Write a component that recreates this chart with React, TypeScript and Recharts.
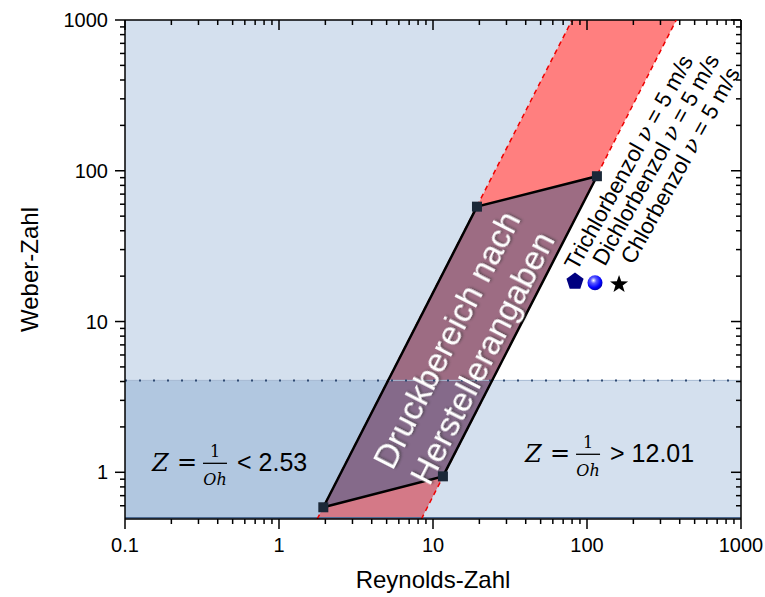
import {
  ComposedChart,
  Area,
  Line,
  Scatter,
  XAxis,
  YAxis,
  ReferenceLine,
} from "recharts";

// axis ticks (log axes)
const xMajorTicks = [0.1, 1, 10, 100, 1000];
const xMinorTicks = [
  0.2, 0.3, 0.4, 0.5, 0.6, 0.7, 0.8, 0.9, 2, 3, 4, 5, 6, 7, 8, 9, 20, 30, 40,
  50, 60, 70, 80, 90, 200, 300, 400, 500, 600, 700, 800, 900,
];
const yMajorTicks = [1, 10, 100, 1000];
const yMinorTicks = [
  0.6, 0.7, 0.8, 0.9, 2, 3, 4, 5, 6, 7, 8, 9, 20, 30, 40, 50, 60, 70, 80, 90,
  200, 300, 400, 500, 600, 700, 800, 900,
];

// Z = 1/Oh < 2.53 (left of the band)
const lowZArea = [
  { re: 0.1, lo: 0.49, hi: 1000 },
  { re: 1.77, lo: 0.49, hi: 1000 },
  { re: 80, lo: 1000, hi: 1000 },
];
// 2.53 < Z < 12.01
const bandArea = [
  { re: 1.77, lo: 0.49, hi: 0.49 },
  { re: 8.41, lo: 0.49, hi: 11.05 },
  { re: 80, lo: 44.4, hi: 1000 },
  { re: 380, lo: 1000, hi: 1000 },
];
const lowZEdge = [
  { re: 1.77, we: 0.49 },
  { re: 80, we: 1000 },
];
const highZEdge = [
  { re: 8.41, we: 0.49 },
  { re: 380, we: 1000 },
];
// We < 4.07 strip
const lowWeArea = [
  { re: 0.1, lo: 0.49, hi: 4.07 },
  { re: 1000, lo: 0.49, hi: 4.07 },
];

// Druckbereich nach Herstellerangaben
const rangeArea = [
  { re: 1.94, lo: 0.586, hi: 0.586 },
  { re: 11.6, lo: 0.94, hi: 21.0 },
  { re: 19.3, lo: 2.58, hi: 57.8 },
  { re: 116, lo: 92, hi: 92 },
];
const rangeCorners = [
  { re: 1.94, we: 0.586 },
  { re: 11.6, we: 0.94 },
  { re: 116, we: 92 },
  { re: 19.3, we: 57.8 },
];
const rangeOutline = [...rangeCorners, rangeCorners[0]];

// solvents at 5 m/s
const trichlor = [{ re: 83.6, we: 18.7 }];
const dichlor = [{ re: 112.7, we: 18.1 }];
const chlor = [{ re: 161.5, we: 17.9 }];
const solventNames = ["Trichlorbenzol", "Dichlorbenzol", "Chlorbenzol"];
const solventLabelPos = [
  { re: 86, we: 21.5 },
  { re: 131, we: 23 },
  { re: 200, we: 23.5 },
];

const rangeLabelPos = [{ re: 15.9, we: 6.6 }];
const zLowPos = [{ re: 0.1497, we: 1.015 }];
const zHighPos = [{ re: 39.6, we: 1.165 }];

const PLOT_W = 616;
const PLOT_H = 499;
const SANS = "'Liberation Sans', Arial, sans-serif";
const MATH = "'DejaVu Serif', 'Liberation Serif', serif";

function XTick(props: any) {
  const { x, y, payload } = props;
  const major = xMajorTicks.includes(payload.value);
  const len = major ? 10 : 5;
  return (
    <g>
      <line x1={x} y1={y} x2={x} y2={y + len} stroke="#000" strokeWidth={1.5} />
      <line
        x1={x}
        y1={y - PLOT_H}
        x2={x}
        y2={y - PLOT_H + len}
        stroke="#000"
        strokeWidth={1.5}
      />
      {major && (
        <text x={x} y={y + 33} textAnchor="middle" fontSize={20} fontFamily={SANS} fill="#000">
          {String(payload.value)}
        </text>
      )}
    </g>
  );
}

function YTick(props: any) {
  const { x, y, payload } = props;
  const major = yMajorTicks.includes(payload.value);
  const len = major ? 10 : 5;
  return (
    <g>
      <line x1={x - len} y1={y} x2={x} y2={y} stroke="#000" strokeWidth={1.5} />
      <line
        x1={x + PLOT_W - len}
        y1={y}
        x2={x + PLOT_W}
        y2={y}
        stroke="#000"
        strokeWidth={1.5}
      />
      {major && (
        <text x={x - 17} y={y + 7} textAnchor="end" fontSize={20} fontFamily={SANS} fill="#000">
          {String(payload.value)}
        </text>
      )}
    </g>
  );
}

const squareShape = (p: any) => (
  <rect x={p.cx - 5} y={p.cy - 5} width={10} height={10} fill="#1b2838" />
);

const pentagonShape = (p: any) => {
  const r = 9;
  const pts = [0, 1, 2, 3, 4]
    .map((i) => {
      const a = -Math.PI / 2 + (i * 2 * Math.PI) / 5;
      return `${p.cx + r * Math.cos(a)},${p.cy + 1 + r * Math.sin(a)}`;
    })
    .join(" ");
  return <polygon points={pts} fill="#000080" />;
};

const sphereShape = (p: any) => (
  <g>
    <defs>
      <radialGradient id="sphereGrad" cx="0.4" cy="0.35" r="0.65">
        <stop offset="0" stopColor="#ffffff" />
        <stop offset="0.3" stopColor="#5a5aff" />
        <stop offset="0.75" stopColor="#0000ff" />
        <stop offset="1" stopColor="#0000b0" />
      </radialGradient>
    </defs>
    <circle cx={p.cx} cy={p.cy} r={7.5} fill="url(#sphereGrad)" />
  </g>
);

const starShape = (p: any) => {
  const pts = Array.from({ length: 10 }, (_, i) => {
    const r = i % 2 === 0 ? 9.5 : 3.8;
    const a = -Math.PI / 2 + (i * Math.PI) / 5;
    return `${p.cx + r * Math.cos(a)},${p.cy + 1 + r * Math.sin(a)}`;
  }).join(" ");
  return <polygon points={pts} fill="#000" />;
};

const solventLabel = (name: string) => (p: any) => (
  <text
    transform={`translate(${p.cx},${p.cy}) rotate(-61)`}
    fontSize={22.5}
    fontFamily={SANS}
    fill="#000"
  >
    {name + " "}
    <tspan fontFamily={MATH} fontStyle="italic">
      ν
    </tspan>
    {" = 5 m/s"}
  </text>
);

const rangeLabel = (p: any) => (
  <g>
    <defs>
      <filter id="txtShadow" x="-20%" y="-20%" width="140%" height="140%">
        <feDropShadow dx="1.5" dy="1.5" stdDeviation="1.2" floodColor="#333" floodOpacity="0.6" />
      </filter>
    </defs>
    <g transform={`translate(${p.cx},${p.cy}) rotate(-63)`} filter="url(#txtShadow)">
      <text textAnchor="middle" fontSize={34} fontFamily={SANS} fill="#fff">
        <tspan x={0} y={-8}>
          Druckbereich nach
        </tspan>
        <tspan x={0} y={32}>
          Herstellerangaben
        </tspan>
      </text>
    </g>
  </g>
);

const zLabel = (rel: string) => (p: any) => (
  <g transform={`translate(${p.cx},${p.cy})`} fill="#000">
    <text x={0} y={0} fontSize={24} fontFamily={MATH} fontStyle="italic">
      Z
    </text>
    <text x={35} y={-1} textAnchor="middle" fontSize={24} fontFamily={MATH}>
      =
    </text>
    <line x1={51} x2={75} y1={-8} y2={-8} stroke="#000" strokeWidth={1.3} />
    <text x={63} y={-14} textAnchor="middle" fontSize={16} fontFamily={MATH}>
      1
    </text>
    <text x={63} y={14} textAnchor="middle" fontSize={16} fontFamily={MATH} fontStyle="italic">
      Oh
    </text>
    <text x={85} y={0} fontSize={25} fontFamily={SANS}>
      {rel}
    </text>
  </g>
);

export default function App() {
  return (
    <div style={{ position: "absolute", left: 0, top: 0, width: 765, height: 597, background: "#fff" }}>
      <ComposedChart
        width={765}
        height={597}
        margin={{ top: 20, right: 24, bottom: 0, left: 0 }}
      >
        <XAxis
          dataKey="re"
          type="number"
          scale="log"
          domain={[0.1, 1000]}
          allowDataOverflow
          ticks={[...xMajorTicks, ...xMinorTicks]}
          interval={0}
          tickSize={0}
          tickMargin={0}
          tickLine={false}
          tick={XTick}
          axisLine={{ stroke: "#000", strokeWidth: 1.5 }}
          height={78}
          label={{
            content: (lp: any) => (
              <text
                x={lp.viewBox.x + lp.viewBox.width / 2}
                y={lp.viewBox.y + 69}
                textAnchor="middle"
                fontSize={24}
                fontFamily={SANS}
                fill="#000"
              >
                Reynolds-Zahl
              </text>
            ),
          }}
        />
        <YAxis
          dataKey="we"
          type="number"
          scale="log"
          domain={[0.49, 1000]}
          allowDataOverflow
          ticks={[...yMajorTicks, ...yMinorTicks]}
          interval={0}
          tickSize={0}
          tickMargin={0}
          tickLine={false}
          tick={YTick}
          axisLine={{ stroke: "#000", strokeWidth: 1.5 }}
          width={125}
          label={{
            content: (lp: any) => (
              <text
                transform={`translate(${lp.viewBox.x + 38},${lp.viewBox.y + lp.viewBox.height / 2}) rotate(-90)`}
                textAnchor="middle"
                fontSize={24}
                fontFamily={SANS}
                fill="#000"
              >
                Weber-Zahl
              </text>
            ),
          }}
        />

        <Area data={lowZArea} dataKey={(d: any) => [d.lo, d.hi]} type="linear" stroke="none" fill="#2863ac" fillOpacity={0.2} dot={false} activeDot={false} isAnimationActive={false} />
        <Area data={bandArea} dataKey={(d: any) => [d.lo, d.hi]} type="linear" stroke="none" fill="#ff0000" fillOpacity={0.5} dot={false} activeDot={false} isAnimationActive={false} />
        <Area data={rangeArea} dataKey={(d: any) => [d.lo, d.hi]} type="linear" stroke="none" fill="#3c5a87" fillOpacity={0.5} dot={false} activeDot={false} isAnimationActive={false} />
        <Area data={lowWeArea} dataKey={(d: any) => [d.lo, d.hi]} type="linear" stroke="none" fill="#2863ac" fillOpacity={0.2} dot={false} activeDot={false} isAnimationActive={false} />

        <ReferenceLine y={4.07} stroke="#a5b9d3" strokeWidth={1} />
        <ReferenceLine y={4.07} stroke="#2f4a72" strokeWidth={2} strokeDasharray="2 12" />
        <ReferenceLine y={0.5} stroke="#4d6b93" strokeWidth={1.5} />
        <ReferenceLine y={1000} stroke="#000" strokeWidth={1.5} />
        <ReferenceLine x={1000} stroke="#000" strokeWidth={1.5} />

        <Line data={lowZEdge} dataKey="we" type="linear" stroke="#ee0000" strokeWidth={1.5} strokeDasharray="5 4" dot={false} activeDot={false} isAnimationActive={false} />
        <Line data={highZEdge} dataKey="we" type="linear" stroke="#ee0000" strokeWidth={1.5} strokeDasharray="5 4" dot={false} activeDot={false} isAnimationActive={false} />
        <Line data={rangeOutline} dataKey="we" type="linear" stroke="#000" strokeWidth={2.5} dot={false} activeDot={false} isAnimationActive={false} />

        <Scatter data={rangeCorners} shape={squareShape} isAnimationActive={false} />
        <Scatter data={trichlor} shape={pentagonShape} isAnimationActive={false} />
        <Scatter data={dichlor} shape={sphereShape} isAnimationActive={false} />
        <Scatter data={chlor} shape={starShape} isAnimationActive={false} />

        {solventNames.map((name, i) => (
          <Scatter key={name} data={[solventLabelPos[i]]} shape={solventLabel(name)} isAnimationActive={false} />
        ))}
        <Scatter data={rangeLabelPos} shape={rangeLabel} isAnimationActive={false} />
        <Scatter data={zLowPos} shape={zLabel("< 2.53")} isAnimationActive={false} />
        <Scatter data={zHighPos} shape={zLabel("> 12.01")} isAnimationActive={false} />
      </ComposedChart>
    </div>
  );
}
